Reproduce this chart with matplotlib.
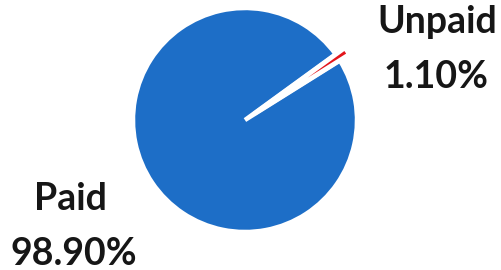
import matplotlib.pyplot as plt

# 数据
labels = ['Paid', 'Unpaid']
values = [98.90, 1.10]
colors = ['#1d6ec7', '#e3151b']
explode = [0, 0.1]

fig = plt.figure(figsize=(5.02, 2.70), dpi=100)
# 饼图中心大约在 (245, 120) 像素，半径约 112 像素
lim = 1.2
side = 112 * lim * 2
ax = fig.add_axes([(245 - side / 2) / 502, (150 - side / 2) / 270, side / 502, side / 270])
ax.pie(values, colors=colors, explode=explode, startangle=36,
       wedgeprops={'edgecolor': 'white', 'linewidth': 3.2})
ax.set_xlim(-lim, lim)
ax.set_ylim(-lim, lim)
ax.set_aspect('equal')
ax.axis('off')

# 标签（名称一行，百分比一行）
font = dict(family='Lato', fontweight='bold', fontsize=27, color='#161616',
            ha='center', va='baseline')
fig.text(437 / 502, 1 - 33 / 270, labels[1], **font)
fig.text(436 / 502, 1 - 88 / 270, f"{values[1]:.2f}%", **font)
fig.text(70 / 502, 1 - 210 / 270, labels[0], **font)
fig.text(74 / 502, 1 - 265 / 270, f"{values[0]:.2f}%", **font)

plt.savefig('out.png', dpi=100)
